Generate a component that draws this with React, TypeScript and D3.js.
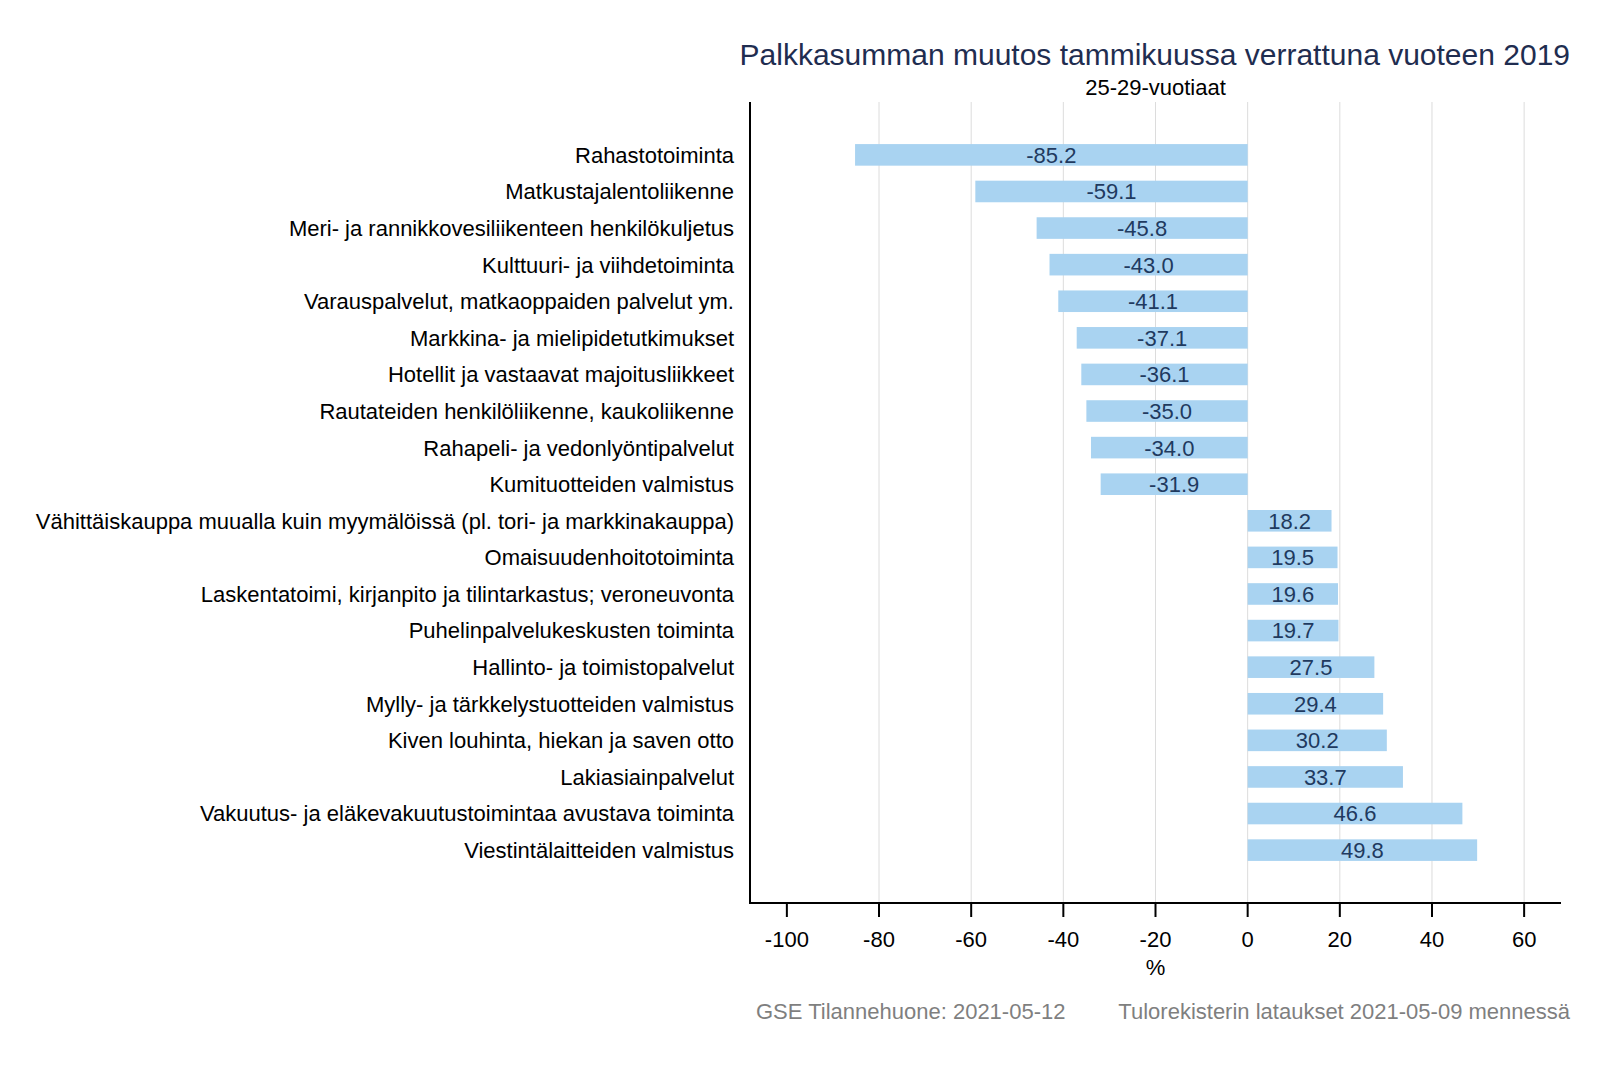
import React from "react";
import * as d3 from "d3";

const categories = [
  "Rahastotoiminta",
  "Matkustajalentoliikenne",
  "Meri- ja rannikkovesiliikenteen henkilökuljetus",
  "Kulttuuri- ja viihdetoiminta",
  "Varauspalvelut, matkaoppaiden palvelut ym.",
  "Markkina- ja mielipidetutkimukset",
  "Hotellit ja vastaavat majoitusliikkeet",
  "Rautateiden henkilöliikenne, kaukoliikenne",
  "Rahapeli- ja vedonlyöntipalvelut",
  "Kumituotteiden valmistus",
  "Vähittäiskauppa muualla kuin myymälöissä (pl. tori- ja markkinakauppa)",
  "Omaisuudenhoitotoiminta",
  "Laskentatoimi, kirjanpito ja tilintarkastus; veroneuvonta",
  "Puhelinpalvelukeskusten toiminta",
  "Hallinto- ja toimistopalvelut",
  "Mylly- ja tärkkelystuotteiden valmistus",
  "Kiven louhinta, hiekan ja saven otto",
  "Lakiasiainpalvelut",
  "Vakuutus- ja eläkevakuutustoimintaa avustava toiminta",
  "Viestintälaitteiden valmistus",
];

const values = [
  -85.2, -59.1, -45.8, -43.0, -41.1, -37.1, -36.1, -35.0, -34.0, -31.9,
  18.2, 19.5, 19.6, 19.7, 27.5, 29.4, 30.2, 33.7, 46.6, 49.8,
];

const xTicks = [-100, -80, -60, -40, -20, 0, 20, 40, 60];
const gridTicks = [-80, -60, -40, -20, 0, 20, 40, 60];
const xDomain = [-108, 68];

const title = "Palkkasumman muutos tammikuussa verrattuna vuoteen 2019";
const subtitle = "25-29-vuotiaat";
const xLabel = "%";
const captionLeft = "GSE Tilannehuone: 2021-05-12";
const captionRight = "Tulorekisterin lataukset 2021-05-09 mennessä";

const W = 1600;
const H = 1067;
const plotLeft = 750;
const plotRight = 1561;
const plotTop = 102;
const plotBottom = 903;
const FONT = "'Liberation Sans', Arial, Helvetica, sans-serif";
const FS = 22;

export default function App() {
  const x = d3.scaleLinear().domain(xDomain).range([plotLeft, plotRight]);
  const y = d3
    .scaleBand<string>()
    .domain(categories)
    .range([plotTop, plotBottom])
    .paddingInner(0.41)
    .paddingOuter(1.15);

  return (
    <svg
      width={W}
      height={H}
      style={{ position: "absolute", left: 0, top: 0, background: "#fff" }}
      fontFamily={FONT}
    >
      <rect x={0} y={0} width={W} height={H} fill="#fff" />
      {gridTicks.map((t) => (
        <line
          key={"g" + t}
          x1={x(t)}
          x2={x(t)}
          y1={plotTop}
          y2={plotBottom}
          stroke="#dcdcdc"
          strokeWidth={1}
        />
      ))}
      {categories.map((c, i) => {
        const v = values[i];
        const x0 = x(Math.min(0, v));
        const x1 = x(Math.max(0, v));
        return (
          <rect
            key={"b" + i}
            x={x0}
            y={y(c)}
            width={x1 - x0}
            height={y.bandwidth()}
            fill="#a9d3f1"
          />
        );
      })}
      {categories.map((c, i) => {
        const v = values[i];
        return (
          <text
            key={"l" + i}
            x={x(v / 2)}
            y={(y(c) as number) + y.bandwidth() / 2}
            dy="0.36em"
            textAnchor="middle"
            fontSize={FS}
            fill="#1f3a5f"
          >
            {v.toFixed(1)}
          </text>
        );
      })}
      {categories.map((c) => (
        <text
          key={"c" + c}
          x={734}
          y={(y(c) as number) + y.bandwidth() / 2}
          dy="0.36em"
          textAnchor="end"
          fontSize={FS}
          fill="#000"
        >
          {c}
        </text>
      ))}
      <line x1={plotLeft} x2={plotLeft} y1={plotTop} y2={plotBottom + 1} stroke="#000" strokeWidth={2} />
      <line x1={plotLeft - 1} x2={plotRight} y1={plotBottom} y2={plotBottom} stroke="#000" strokeWidth={2} />
      {xTicks.map((t) => (
        <g key={"t" + t}>
          <line x1={x(t)} x2={x(t)} y1={plotBottom} y2={plotBottom + 14} stroke="#000" strokeWidth={2} />
          <text x={x(t)} y={947} textAnchor="middle" fontSize={FS} fill="#000">
            {t}
          </text>
        </g>
      ))}
      <text x={(plotLeft + plotRight) / 2} y={975} textAnchor="middle" fontSize={FS} fill="#000">
        {xLabel}
      </text>
      <text x={1570} y={65} textAnchor="end" fontSize={30} fill="#1f2d50">
        {title}
      </text>
      <text x={(plotLeft + plotRight) / 2} y={95} textAnchor="middle" fontSize={FS} fill="#000">
        {subtitle}
      </text>
      <text x={756} y={1019} textAnchor="start" fontSize={FS} fill="#7f7f7f">
        {captionLeft}
      </text>
      <text x={1570} y={1019} textAnchor="end" fontSize={FS} fill="#7f7f7f">
        {captionRight}
      </text>
    </svg>
  );
}
